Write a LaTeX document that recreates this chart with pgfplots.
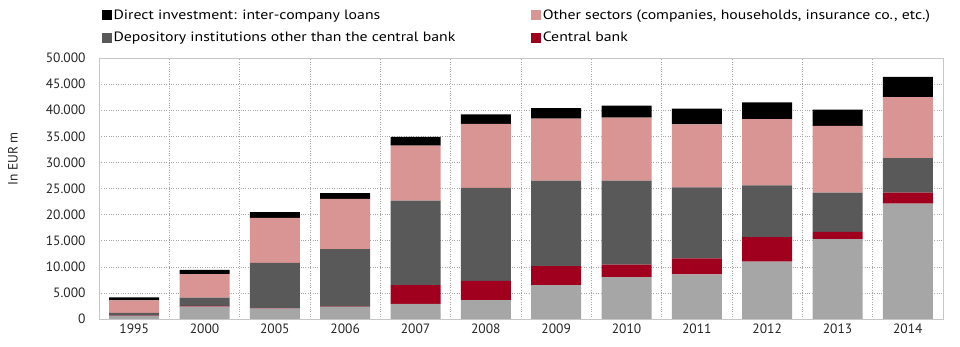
\documentclass[border=0pt]{standalone}
\usepackage{pgfplots}
\pgfplotsset{compat=1.18}
\usepackage{fontspec}
\setmainfont{PT Sans}
\newfontfamily\legendfont[FakeStretch=1.17]{PT Sans}
\definecolor{cgray}{HTML}{A6A6A6}
\definecolor{cred}{HTML}{A0001E}
\definecolor{cdark}{HTML}{595959}
\definecolor{cpink}{HTML}{D99594}
\begin{document}
\begin{tikzpicture}
\begin{axis}[
  scale only axis, width=844pt, height=261pt,
  ybar stacked, bar width=50pt,
  xmin=-0.5, xmax=11.5, ymin=0, ymax=50000,
  xtick={0,...,11},
  xticklabels={1995,2000,2005,2006,2007,2008,2009,2010,2011,2012,2013,2014},
  minor xtick={0.5,1.5,...,10.5},
  xminorgrids, ymajorgrids,
  major grid style={dotted, gray!70},
  minor grid style={dotted, gray!70},
  ytick={0,5000,...,50000},
  scaled y ticks=false,
  /pgf/number format/1000 sep={.},
  /pgf/number format/assume math mode=true,
  yticklabel style={xshift=-10pt},
  xticklabel style={yshift=-1pt},
  axis line style={gray!45},
  tick style={draw=none},
  tick label style={font=\fontsize{13.5}{16}\selectfont, text=black!85},
  ylabel={In EUR m},
  ylabel style={at={(axis description cs:0,0.613)}, anchor=center, xshift=0pt, yshift=86pt, font=\fontsize{13.5}{16}\selectfont, text=black!85},
  legend columns=2,
  legend cell align=left,
  legend style={at={(rel axis cs:0,1)}, anchor=south west, xshift=3pt, yshift=13pt,
    draw=none, fill=none, inner sep=0pt, row sep=7pt,
    font=\legendfont\fontsize{13.5}{16}\selectfont,
    /tikz/column 2/.style={column sep=74pt}},
]
% light gray (bottom)
\addplot[fill=cgray, draw=none, forget plot] coordinates {
(0,600) (1,2350) (2,2000) (3,2300) (4,2900) (5,3600) (6,6500) (7,8000) (8,8550) (9,11000) (10,15300) (11,22100)};
% central bank
\addplot[fill=cred, draw=none, forget plot] coordinates {
(0,50) (1,150) (2,50) (3,50) (4,3600) (5,3700) (6,3650) (7,2400) (8,3050) (9,4700) (10,1400) (11,2100)};
% depository institutions
\addplot[fill=cdark, draw=none, forget plot] coordinates {
(0,500) (1,1600) (2,8700) (3,11050) (4,16200) (5,17800) (6,16350) (7,16100) (8,13600) (9,9900) (10,7500) (11,6600)};
% other sectors
\addplot[fill=cpink, draw=none, forget plot] coordinates {
(0,2400) (1,4500) (2,8600) (3,9600) (4,10500) (5,12300) (6,11900) (7,12100) (8,12100) (9,12700) (10,12800) (11,11700)};
% direct investment
\addplot[fill=black, draw=none, forget plot] coordinates {
(0,600) (1,800) (2,1100) (3,1100) (4,1700) (5,1800) (6,2000) (7,2300) (8,3000) (9,3200) (10,3100) (11,3900)};
\addlegendimage{legend image code/.code={\fill[black] (0pt,-4.5pt) rectangle (9pt,4.5pt);}}
\addlegendentry{Direct investment: inter-company loans}
\addlegendimage{legend image code/.code={\fill[cpink] (0pt,-4.5pt) rectangle (9pt,4.5pt);}}
\addlegendentry{Other sectors (companies, households, insurance co., etc.)}
\addlegendimage{legend image code/.code={\fill[cdark] (0pt,-4.5pt) rectangle (9pt,4.5pt);}}
\addlegendentry{Depository institutions other than the central bank}
\addlegendimage{legend image code/.code={\fill[cred] (0pt,-4.5pt) rectangle (9pt,4.5pt);}}
\addlegendentry{Central bank}
\end{axis}
\pgfresetboundingbox
\path (-99pt,-28pt) rectangle (861pt,319pt);
\end{tikzpicture}
\end{document}
